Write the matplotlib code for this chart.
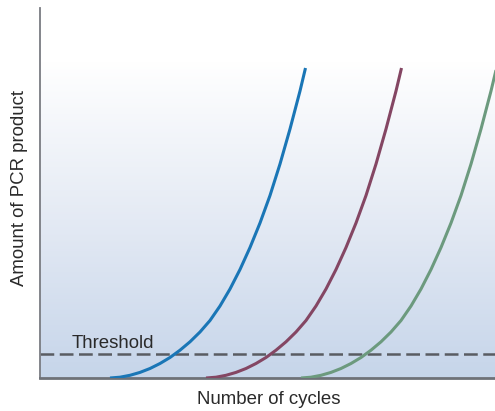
import numpy as np
import matplotlib.pyplot as plt
from matplotlib.colors import LinearSegmentedColormap

plt.rcParams['font.family'] = ['Liberation Sans', 'DejaVu Sans']

# amplification curves (cycle, amount in arbitrary units)
blue_x = [7, 8, 9, 10, 11, 12, 13, 14, 15, 16, 17, 18, 19, 20, 21, 22, 23, 24, 25, 26, 26.55]
blue_y = [0, 0.08, 0.27, 0.56, 0.95, 1.45, 2.05, 2.78, 3.62, 4.6, 5.75,
          7.2, 8.9, 10.85, 13.05, 15.5, 18.25, 21.4, 24.9, 28.7, 31.0]

purple_x = [16.6, 17.6, 18.6, 19.6, 20.6, 21.6, 22.6, 23.6, 24.6, 25.6, 26.6,
            27.6, 28.6, 29.6, 30.6, 31.6, 32.6, 33.6, 34.6, 35.6, 36.15]
purple_y = [0, 0.08, 0.27, 0.56, 0.95, 1.45, 2.05, 2.78, 3.62, 4.6, 5.75,
            7.2, 8.9, 10.85, 13.05, 15.5, 18.25, 21.4, 24.9, 28.7, 31.0]

green_x = [26.1, 27.1, 28.1, 29.1, 30.1, 31.1, 32.1, 33.1, 34.1, 35.1, 36.1,
           37.1, 38.1, 39.1, 40.1, 41.1, 42.1, 43.1, 44.1, 45.1, 45.65]
green_y = [0, 0.08, 0.27, 0.56, 0.95, 1.45, 2.05, 2.78, 3.62, 4.6, 5.75,
           7.2, 8.9, 10.85, 13.05, 15.5, 18.25, 21.4, 24.9, 28.7, 31.0]

threshold = 2.4

fig = plt.figure(figsize=(4.95, 4.11), dpi=100)
ax = fig.add_axes([40 / 495, 33 / 411, 455 / 495, 370 / 411])
ax.set_xlim(0, 45.5)
ax.set_ylim(0, 37)

# soft blue background fading to white near the top
cmap = LinearSegmentedColormap.from_list('bg', ['#c6d5ea', '#e4eaf4', '#ffffff'])
grad = np.linspace(0, 1, 256).reshape(-1, 1)
ax.imshow(grad, cmap=cmap, origin='lower', aspect='auto',
          extent=[0, 45.5, 0, 31.6], zorder=0)

for xs, ys, col in [(blue_x, blue_y, '#1a76b6'),
                    (purple_x, purple_y, '#844663'),
                    (green_x, green_y, '#6c9a7e')]:
    ax.plot(xs, ys, color=col, lw=2.2, solid_capstyle='butt',
            solid_joinstyle='round', zorder=3)

ax.axhline(threshold, color='#595c62', lw=1.8, dashes=(5.5, 2.2), zorder=2)
ax.text(3.2, 3.0, 'Threshold', fontsize=13.4, color='#2a2a2a', va='baseline')

for side in ['top', 'right']:
    ax.spines[side].set_visible(False)
ax.spines['left'].set_color('#7a7c82')
ax.spines['left'].set_linewidth(1.3)
ax.spines['bottom'].set_color('#6e7178')
ax.spines['bottom'].set_linewidth(2.0)
ax.set_xticks([])
ax.set_yticks([])

fig.text(20 / 495, 1 - 188 / 411, 'Amount of PCR product', rotation=90,
         ha='center', va='center', fontsize=13.4, color='#2a2a2a')
fig.text(269 / 495, 1 - 399 / 411, 'Number of cycles',
         ha='center', va='center', fontsize=13.4, color='#2a2a2a')

fig.savefig('out.png', dpi=100)
